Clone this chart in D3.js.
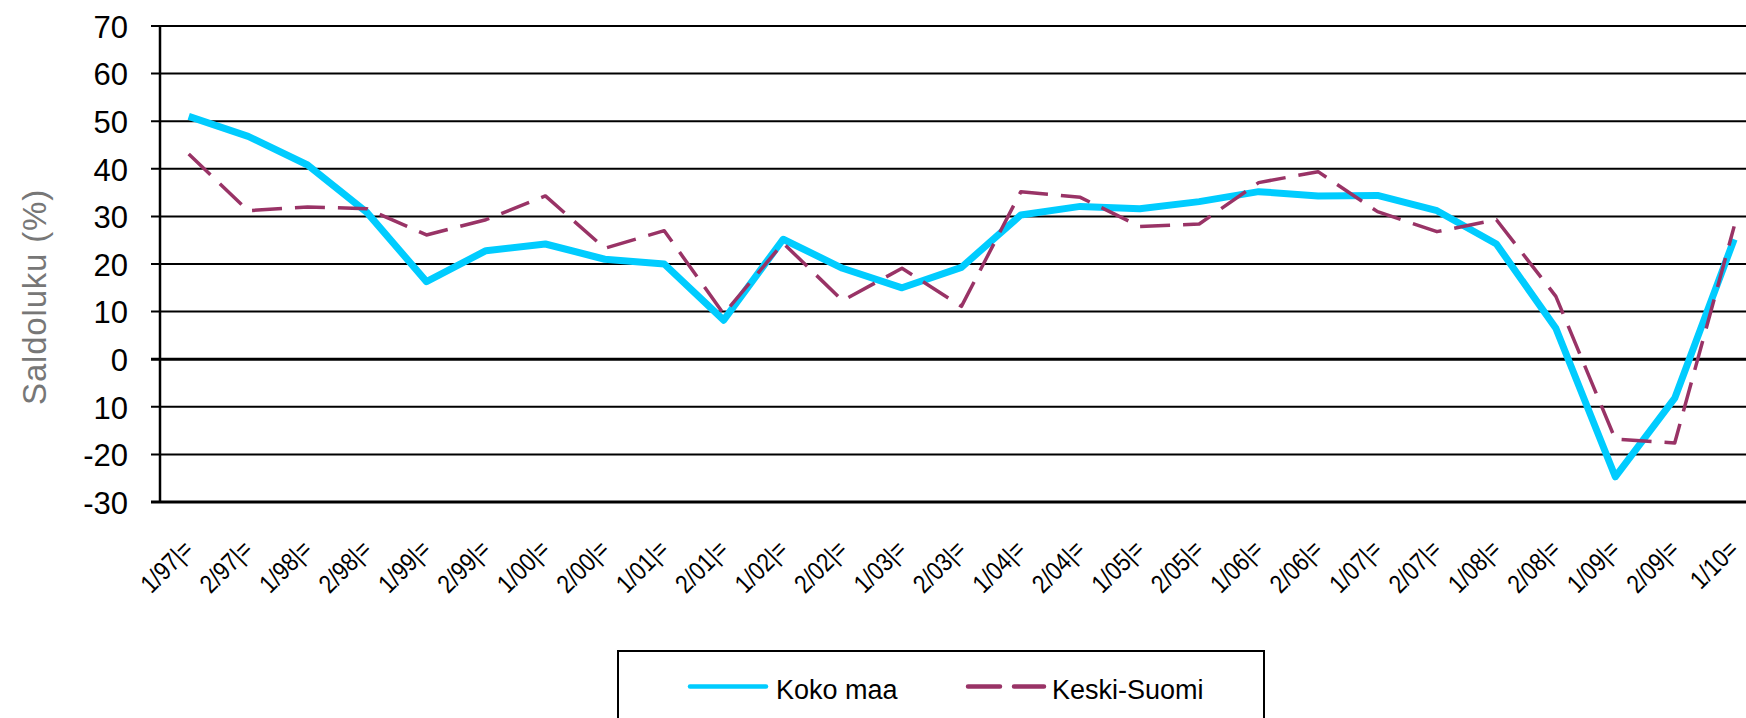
<!DOCTYPE html>
<html>
<head>
<meta charset="utf-8">
<script src="https://cdn.jsdelivr.net/npm/d3@7"></script>
<style>
  html, body { margin: 0; padding: 0; background: #fff; }
  svg { display: block; }
  text { font-family: "Liberation Sans", Arial, sans-serif; }
</style>
</head>
<body>
<svg id="chart" width="1746" height="718"></svg>
<script>
const categories = ["1/97|=","2/97|=","1/98|=","2/98|=","1/99|=","2/99|=","1/00|=","2/00|=","1/01|=","2/01|=",
  "1/02|=","2/02|=","1/03|=","2/03|=","1/04|=","2/04|=","1/05|=","2/05|=","1/06|=","2/06|=",
  "1/07|=","2/07|=","1/08|=","2/08|=","1/09|=","2/09|=","1/10="];
const kokoMaa = [51.0, 46.8, 40.8, 30.8, 16.3, 22.8, 24.2, 21.0, 20.0, 8.2,
  25.2, 19.1, 15.0, 19.3, 30.3, 32.1, 31.6, 33.1, 35.2, 34.3,
  34.4, 31.2, 24.2, 6.5, -24.7, -8.2, 25.2];
const keskiSuomi = [43.1, 31.2, 32.0, 31.6, 26.1, 29.3, 34.3, 23.3, 27.0, 9.5,
  24.4, 12.3, 19.1, 11.1, 35.2, 34.0, 27.9, 28.4, 37.1, 39.4,
  31.0, 26.8, 29.3, 13.2, -16.8, -17.6, 27.9];
const yTicks = [70, 60, 50, 40, 30, 20, 10, 0, -10, -20, -30];
const yTickLabels = ["70", "60", "50", "40", "30", "20", "10", "0", "10", "-20", "-30"];
const seriesNames = ["Koko maa", "Keski-Suomi"];
const yTitle = "Saldoluku (%)";

const svg = d3.select("#chart");
const plotLeft = 160, plotTop = 26, plotBottom = 502;
const step = 59.44;
const x = d3.scaleBand().domain(categories).range([plotLeft - 1, plotLeft - 1 + step * categories.length]);
const y = d3.scaleLinear().domain([-30, 70]).range([plotBottom, plotTop]);
const cx = d => x(d) + x.bandwidth() / 2;

// gridlines
const grid = svg.append("g");
grid.selectAll("line").data(yTicks).join("line")
  .attr("x1", plotLeft - 9).attr("x2", 1746)
  .attr("y1", d => y(d)).attr("y2", d => y(d))
  .attr("stroke", "#000")
  .attr("stroke-width", d => (d === 0 || d === -30) ? 3 : 2);

// y axis line
svg.append("line").attr("x1", plotLeft).attr("x2", plotLeft).attr("y1", plotTop).attr("y2", plotBottom)
  .attr("stroke", "#000").attr("stroke-width", 2.5);

// y tick labels
svg.append("g").selectAll("text").data(yTicks).join("text")
  .attr("x", 128).attr("y", d => y(d))
  .attr("dy", "0.38em")
  .attr("text-anchor", "end")
  .attr("font-size", 31)
  .attr("fill", "#000")
  .text((d, i) => yTickLabels[i]);

// y title
svg.append("text")
  .attr("transform", "translate(46,297) rotate(-90)")
  .attr("text-anchor", "middle")
  .attr("font-size", 33)
  .attr("letter-spacing", 0.8)
  .attr("fill", "#777")
  .text(yTitle);

// x labels
svg.append("g").selectAll("text").data(categories).join("text")
  .attr("transform", d => `translate(${cx(d) + 6},${plotBottom + 49}) rotate(-45) scale(0.85,1)`)
  .attr("text-anchor", "end")
  .attr("font-size", 26)
  .attr("fill", "#000")
  .text(d => d);

// lines
const line = d3.line().x((d, i) => cx(categories[i])).y(d => y(d));
svg.append("path").datum(kokoMaa)
  .attr("d", line).attr("fill", "none")
  .attr("stroke", "#00CCFF").attr("stroke-width", 7)
  .attr("stroke-linejoin", "round");
svg.append("path").datum(keskiSuomi)
  .attr("d", line).attr("fill", "none")
  .attr("stroke", "#993366").attr("stroke-width", 3.5)
  .attr("stroke-dasharray", "30,13")
  .attr("stroke-linejoin", "round");

// legend
const lg = svg.append("g");
lg.append("rect").attr("x", 618).attr("y", 651).attr("width", 646).attr("height", 90)
  .attr("fill", "#fff").attr("stroke", "#000").attr("stroke-width", 2);
const legendItems = [
  { name: seriesNames[0], color: "#00CCFF", dash: null, x0: 690, tx: 776 },
  { name: seriesNames[1], color: "#993366", dash: "32,14", x0: 968, tx: 1052 }
];
legendItems.forEach(it => {
  lg.append("line").attr("x1", it.x0).attr("x2", it.x0 + 76)
    .attr("y1", 686.5).attr("y2", 686.5)
    .attr("stroke", it.color).attr("stroke-width", 4.5)
    .attr("stroke-linecap", "round")
    .attr("stroke-dasharray", it.dash);
  lg.append("text").attr("x", it.tx).attr("y", 699)
    .attr("font-size", 27).attr("fill", "#000").text(it.name);
});
</script>
</body>
</html>
